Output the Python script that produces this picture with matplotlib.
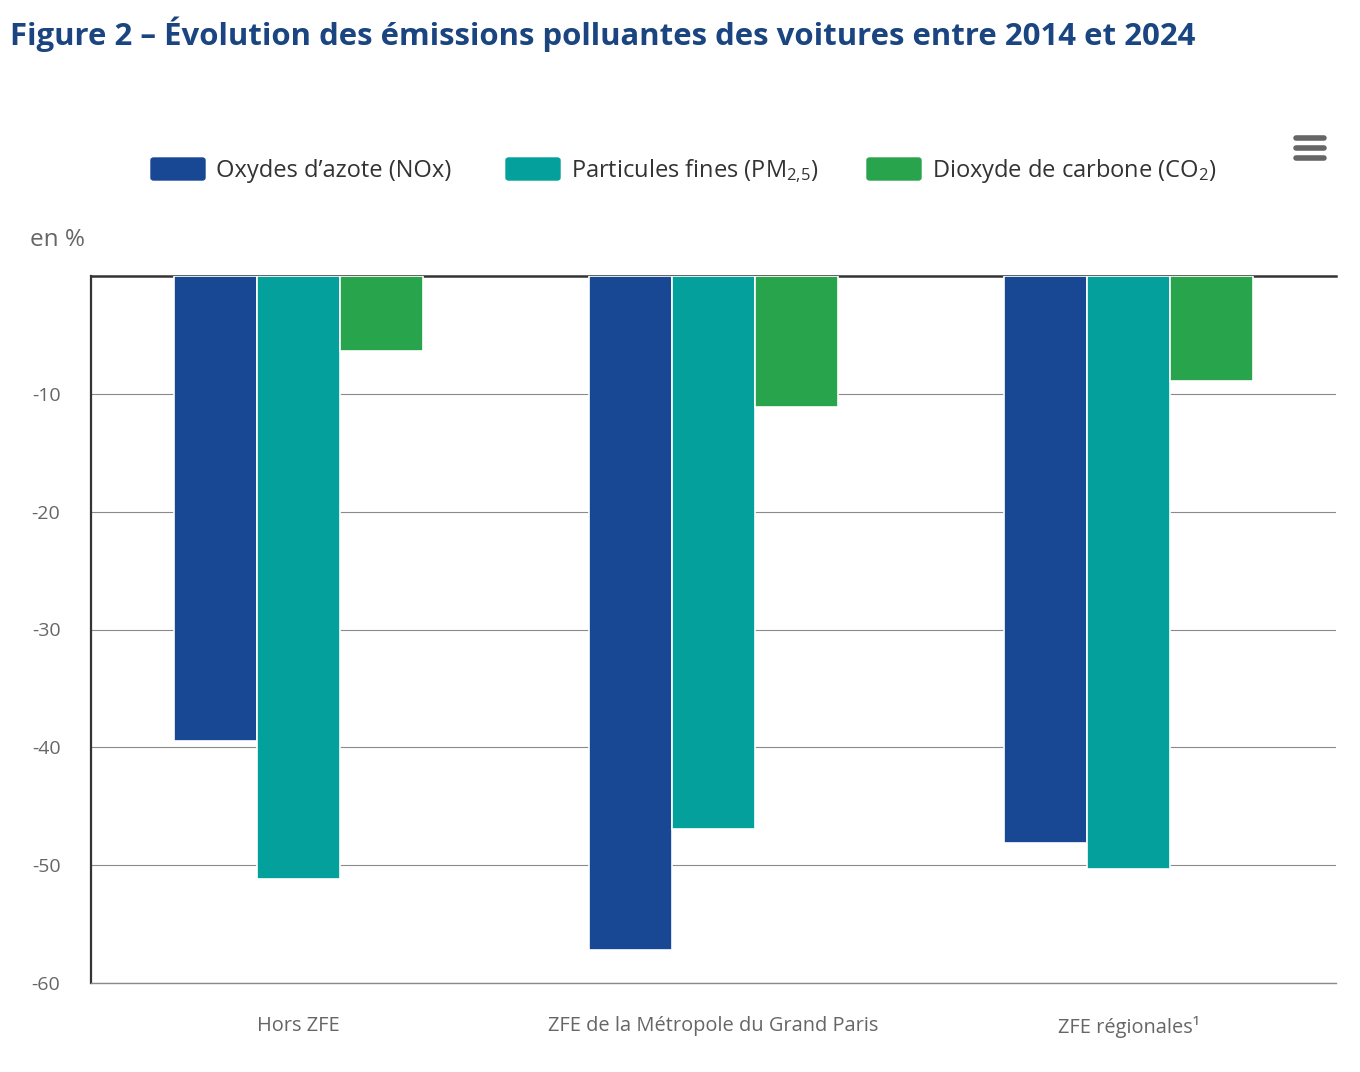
import numpy as np
import matplotlib
matplotlib.use("Agg")
import matplotlib.pyplot as plt
from matplotlib.lines import Line2D
from matplotlib.patches import FancyBboxPatch

plt.rcParams['font.family'] = ['Open Sans', 'DejaVu Sans']
plt.rcParams['mathtext.fontset'] = 'custom'
plt.rcParams['mathtext.rm'] = 'Open Sans'
plt.rcParams['mathtext.it'] = 'Open Sans'

# données (en %)
categories = ["Hors ZFE", "ZFE de la Métropole du Grand Paris", "ZFE régionales¹"]
series_names = ["Oxydes d’azote (NOx)", "Particules fines (PM$_{2{,}5}$)",
                "Dioxyde de carbone (CO$_{2}$)"]
nox = [-39.5, -57.2, -48.1]
pm25 = [-51.2, -46.9, -50.3]
co2 = [-6.4, -11.1, -8.9]
yticks = [-10, -20, -30, -40, -50, -60]

colors = ["#184794", "#04a09c", "#28a44c"]
grey = "#666666"

fig = plt.figure(figsize=(13.6, 10.72), dpi=100)
ax = fig.add_axes([91 / 1360, 1 - 983 / 1072, 1245 / 1360, 707 / 1072])

x = np.arange(len(categories))
w = 0.2
for i, (vals, c) in enumerate(zip([nox, pm25, co2], colors)):
    ax.bar(x + (i - 1) * w, vals, width=w, color=c, edgecolor="white",
           linewidth=1.2, zorder=3)

ax.set_xlim(-0.5, 2.5)
ax.set_ylim(-60, 0)
ax.set_yticks(yticks)
ax.set_yticklabels([str(t) for t in yticks])
ax.set_xticks(x)
ax.set_xticklabels(categories)
ax.tick_params(axis="y", length=0, pad=22, labelsize=14, labelcolor=grey)
ax.tick_params(axis="x", length=0, pad=24, labelsize=14.4, labelcolor=grey)
ax.yaxis.grid(True, color="#8a8a8a", linewidth=0.8, zorder=1)

for s in ["top", "right"]:
    ax.spines[s].set_visible(False)
ax.spines["left"].set_color("#333333")
ax.spines["left"].set_linewidth(1.6)
ax.spines["bottom"].set_color("#8a8a8a")
ax.spines["bottom"].set_linewidth(1.0)
ax.axhline(0, color="#333333", linewidth=1.8, zorder=2, clip_on=False)

# titre
fig.text(10 / 1360, 1 - 34 / 1072, "Figure 2 – Évolution des émissions polluantes des voitures entre 2014 et 2024",
         fontsize=22.4, fontweight="bold", color="#1a4580", va="center", ha="left")
fig.text(30 / 1360, 1 - 240 / 1072, "en %", fontsize=17.5, color=grey, va="center")

# légende
leg_x = [150, 505, 866]
for lx, name, c in zip(leg_x, series_names, colors):
    fig.patches.append(FancyBboxPatch(((lx + 1) / 1360, 1 - 180 / 1072), 54 / 1360, 22 / 1072,
                                      boxstyle="round,pad=0,rounding_size=0.002",
                                      transform=fig.transFigure, color=c))
    fig.text((lx + 66) / 1360, 1 - 171 / 1072, name, fontsize=17, color="#333333",
             va="center", ha="left")

# menu
for yy in [138, 148, 158]:
    fig.lines.append(Line2D([1296 / 1360, 1324 / 1360], [1 - yy / 1072] * 2,
                            transform=fig.transFigure, color=grey, linewidth=4,
                            solid_capstyle="round"))

fig.savefig("out.png", dpi=100, facecolor="white")
